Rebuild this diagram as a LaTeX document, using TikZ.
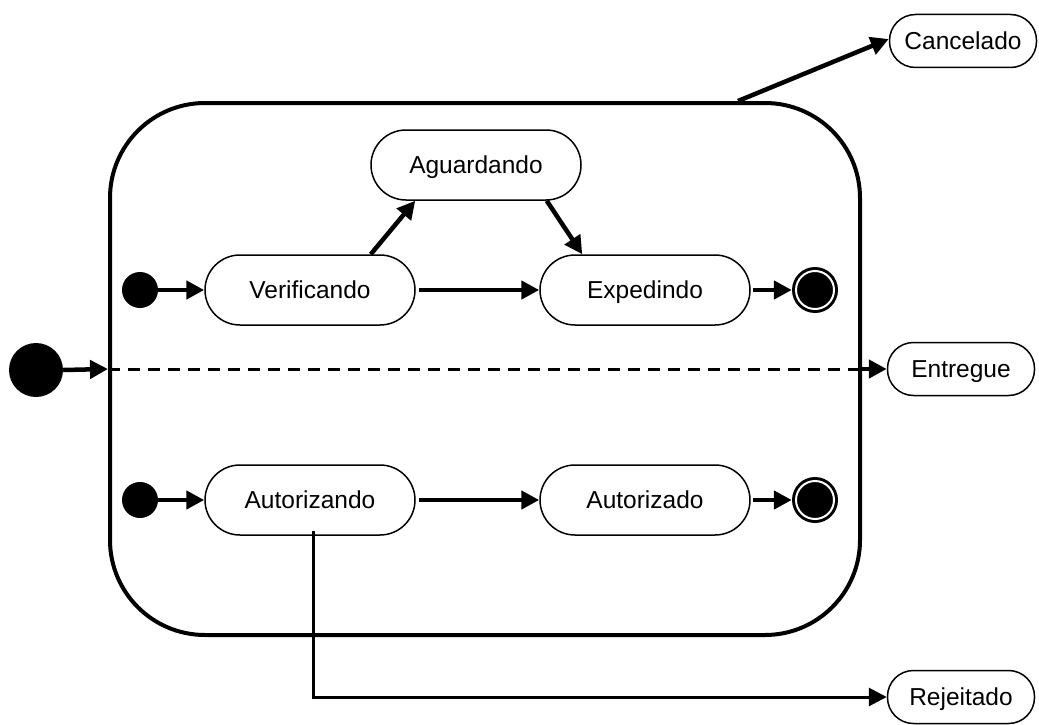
\documentclass[tikz,border=0pt]{standalone}
\usepackage{fontspec}
\setmainfont{Liberation Sans}
\usetikzlibrary{arrows.meta}
\begin{document}
\begin{tikzpicture}[x=1pt,y=-1pt,
  state/.style={draw=black, line width=1.5pt, fill=white, rectangle, rounded corners=35pt,
    minimum width=210pt, minimum height=70pt, font=\fontsize{24.5}{28}\selectfont, inner sep=0pt,
    text height=19pt, text depth=2pt},
  outstate/.style={draw=black, line width=1.5pt, fill=white, rectangle, rounded corners=26pt,
    minimum width=147pt, minimum height=53pt, font=\fontsize{24.5}{28}\selectfont, inner sep=0pt,
    text height=19pt, text depth=2pt},
  initdot/.style={circle, fill=black, minimum size=#1, inner sep=0pt},
  finaldot/.style={circle, fill=black, minimum size=46pt, inner sep=0pt},
  conn/.style={line width=4.5pt, -{Triangle[length=18pt,width=18pt]}},
]
\useasboundingbox (0,0) rectangle (1039,725);
% composite state
\node[draw=black, line width=4pt, rectangle, rounded corners=95pt,
      minimum width=750pt, minimum height=532pt, inner sep=0pt] (comp) at (485,369) {};

% states
\node[state] (agu) at (476,165) {Aguardando};
\node[state] (ver) at (310,290) {Verificando};
\node[state] (exp) at (645,290) {Expedindo};
\node[state] (auz) at (310,500) {Autorizando};
\node[state] (aud) at (645,500) {Autorizado};

\node[outstate] (canc) at (963,41) {Cancelado};
\node[outstate] (ent) at (961,369) {Entregue};
\node[outstate] (rej) at (961,697) {Rejeitado};

% initial / final
\node[initdot=36pt] (i1) at (140,290) {};
\node[initdot=36pt] (i2) at (140,500) {};
\node[initdot=54pt] (i0) at (36,370) {};
\node[finaldot] (f1) at (815,290) {};
\node[finaldot] (f2) at (815,500) {};
\draw[white, line width=2pt] (f1.center) circle (19pt);
\draw[white, line width=2pt] (f2.center) circle (19pt);

% connectors
\draw[conn] (i1) -- (ver.west);
\draw[conn] ([xshift=3pt]ver.east) -- (exp.west);
\draw[conn] ([xshift=-45pt]ver.north east) -- ([xshift=45pt]agu.south west);
\draw[conn] ([xshift=-35pt]agu.south east) -- ([xshift=43pt]exp.north west);
\draw[conn] ([xshift=2pt]exp.east) -- (f1.west);

\draw[conn] (i2) -- (auz.west);
\draw[conn] ([xshift=3pt]auz.east) -- (aud.west);
\draw[conn] ([xshift=2pt]aud.east) -- (f2.west);

\draw[conn] (i0.east) -- (comp.west);
\draw[line width=3pt, dash pattern=on 12pt off 8pt] (comp.west) -- (comp.east);
\draw[conn] (comp.east) -- (ent.west);

\draw[conn] ([xshift=253pt]comp.north) -- ([yshift=2pt]canc.west);
\draw[line width=3pt, -{Triangle[length=18pt,width=18pt]}] ([xshift=3pt,yshift=5pt]auz.south) |- (rej.west);
\end{tikzpicture}
\end{document}
